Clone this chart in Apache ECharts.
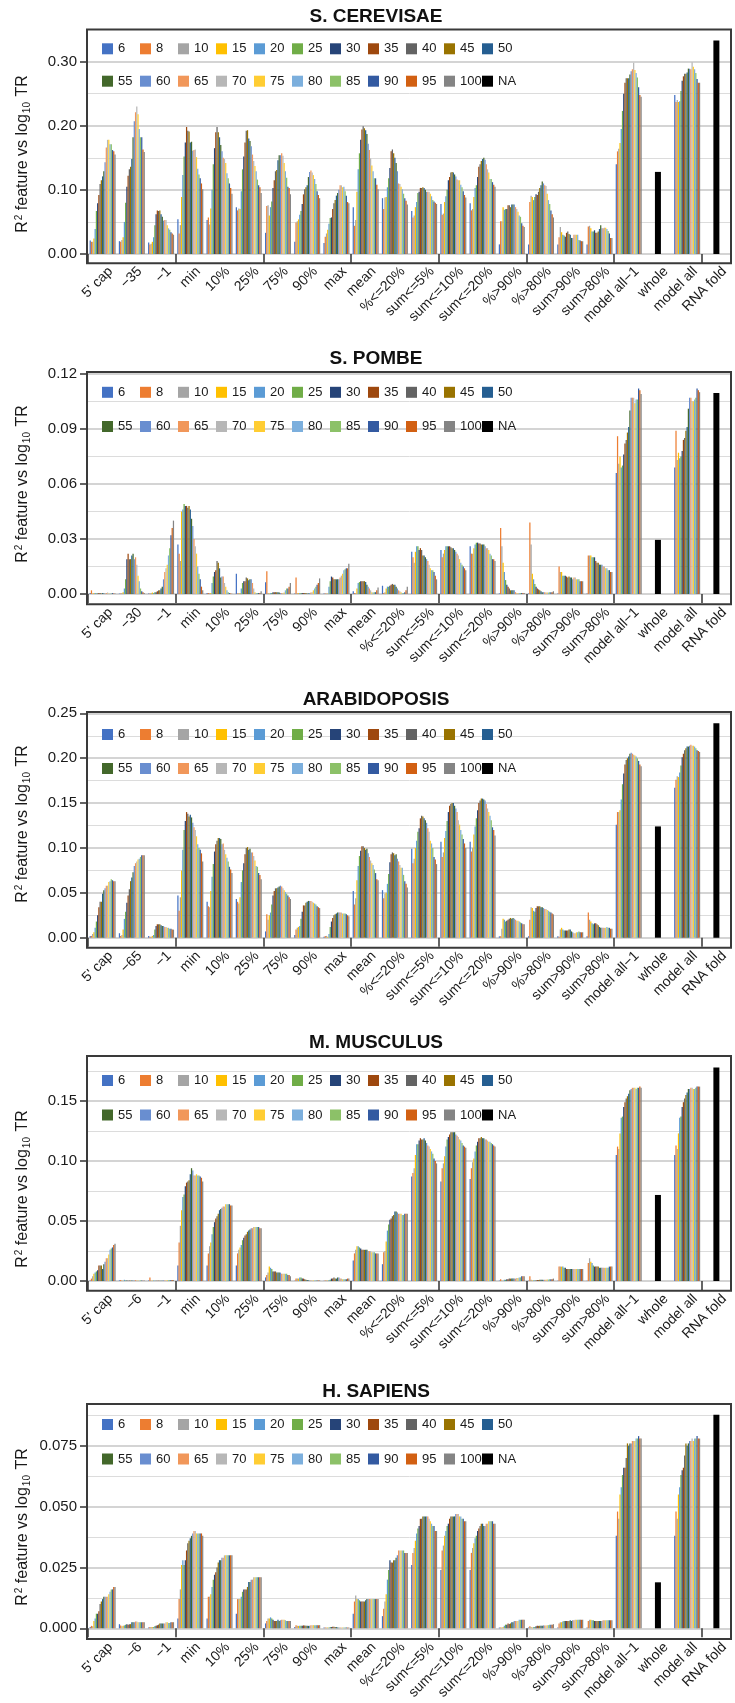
<!DOCTYPE html>
<html>
<head>
<meta charset="utf-8">
<script src="https://cdn.jsdelivr.net/npm/echarts@6/dist/echarts.min.js"></script>
<style>
  html, body { margin: 0; padding: 0; background: #ffffff; }
  #chart { width: 735px; height: 1703px; }
</style>
</head>
<body>
<div id="chart"></div>
<script>
// Window sizes (one bar series each) and the whole-transcript "NA" series
const WINDOWS = ['6', '8', '10', '15', '20', '25', '30', '35', '40', '45', '50',
                 '55', '60', '65', '70', '75', '80', '85', '90', '95', '100'];
const WINDOW_COLORS = ['#4472C4', '#ED7D31', '#A5A5A5', '#FFC000', '#5B9BD5', '#70AD47', '#264478',
                       '#9E480E', '#636363', '#997300', '#255E91', '#43682B', '#698ED0', '#F1975A',
                       '#B7B7B7', '#FFCD33', '#7CAFDD', '#8CC168', '#335AA1', '#D26012', '#848484'];
const NA_NAME = 'NA';

// Feature categories; the second one is the upstream position, which differs per species
const CAP = "5' cap";
const CATEGORY_TAIL = ['\u22121', 'min', '10%', '25%', '75%', '90%', 'max', 'mean', '%<=20%',
  'sum<=5%', 'sum<=10%', 'sum<=20%', '%>90%', '%>80%', 'sum>90%', 'sum>80%',
  'model all\u22121', 'whole', 'model all', 'RNA fold'];
// Categories that only have the whole-transcript (NA) value
const NA_ONLY = ['whole', 'RNA fold'];

const CEREVISAE_CATEGORIES = [CAP, '\u221235', ...CATEGORY_TAIL];
const POMBE_CATEGORIES = [CAP, '\u221230', ...CATEGORY_TAIL];
const ARABIDOPSIS_CATEGORIES = [CAP, '\u221265', ...CATEGORY_TAIL];
const MUSCULUS_CATEGORIES = [CAP, '\u22126', ...CATEGORY_TAIL];
const SAPIENS_CATEGORIES = [CAP, '\u22126', ...CATEGORY_TAIL];

// R² per feature (rows, in category order without whole / RNA fold), one value per window size
const CEREVISAE_R2 = [
  [0.021,0.019,0.019,0.024,0.039,0.067,0.079,0.092,0.109,0.115,0.121,0.129,0.143,0.166,0.178,0.178,0.171,0.171,0.162,0.160,0.155],
  [0.020,0.019,0.022,0.026,0.050,0.080,0.105,0.122,0.132,0.136,0.148,0.182,0.207,0.221,0.230,0.218,0.195,0.182,0.182,0.163,0.159],
  [0.018,0.015,0.016,0.019,0.026,0.045,0.062,0.068,0.067,0.068,0.062,0.058,0.052,0.053,0.053,0.045,0.040,0.038,0.034,0.032,0.030],
  [0.054,0.032,0.045,0.089,0.123,0.152,0.174,0.198,0.192,0.191,0.174,0.175,0.161,0.162,0.163,0.151,0.133,0.124,0.118,0.110,0.101],
  [0.053,0.057,0.046,0.071,0.100,0.140,0.165,0.190,0.198,0.190,0.182,0.170,0.160,0.150,0.148,0.142,0.126,0.118,0.110,0.103,0.094],
  [0.073,0.068,0.071,0.070,0.098,0.132,0.152,0.174,0.192,0.193,0.180,0.176,0.168,0.155,0.145,0.137,0.129,0.116,0.107,0.104,0.095],
  [0.033,0.075,0.076,0.060,0.073,0.082,0.103,0.115,0.129,0.131,0.146,0.154,0.154,0.157,0.153,0.142,0.129,0.119,0.105,0.103,0.093],
  [0.019,0.049,0.051,0.054,0.061,0.067,0.078,0.093,0.101,0.104,0.107,0.120,0.128,0.130,0.127,0.123,0.117,0.109,0.098,0.092,0.087],
  [0.017,0.027,0.032,0.038,0.047,0.056,0.057,0.070,0.079,0.084,0.091,0.095,0.100,0.107,0.107,0.104,0.105,0.098,0.091,0.081,0.079],
  [0.073,0.044,0.053,0.097,0.132,0.157,0.178,0.194,0.199,0.196,0.193,0.187,0.172,0.162,0.149,0.138,0.129,0.118,0.118,0.108,0.101],
  [0.087,0.070,0.088,0.089,0.104,0.118,0.134,0.160,0.163,0.157,0.150,0.142,0.129,0.110,0.109,0.105,0.101,0.094,0.087,0.083,0.077],
  [0.067,0.057,0.060,0.073,0.081,0.095,0.097,0.103,0.103,0.104,0.103,0.100,0.097,0.097,0.097,0.094,0.090,0.084,0.082,0.080,0.078],
  [0.078,0.061,0.063,0.081,0.090,0.100,0.115,0.120,0.127,0.128,0.127,0.124,0.121,0.116,0.115,0.115,0.108,0.104,0.098,0.092,0.088],
  [0.079,0.068,0.070,0.089,0.103,0.107,0.120,0.136,0.140,0.145,0.148,0.150,0.147,0.140,0.132,0.127,0.117,0.117,0.112,0.108,0.105],
  [0.015,0.051,0.051,0.073,0.069,0.070,0.070,0.076,0.076,0.073,0.077,0.077,0.077,0.073,0.070,0.066,0.060,0.058,0.048,0.044,0.042],
  [0.015,0.081,0.091,0.089,0.084,0.089,0.093,0.092,0.097,0.103,0.107,0.113,0.110,0.107,0.106,0.094,0.084,0.078,0.068,0.062,0.057],
  [0.015,0.026,0.042,0.034,0.030,0.029,0.027,0.033,0.035,0.031,0.030,0.025,0.025,0.030,0.030,0.030,0.030,0.022,0.021,0.020,0.020],
  [0.015,0.043,0.044,0.040,0.035,0.035,0.037,0.033,0.033,0.035,0.039,0.045,0.040,0.040,0.041,0.041,0.039,0.036,0.032,0.025,0.025],
  [0.140,0.160,0.164,0.173,0.195,0.223,0.250,0.267,0.274,0.274,0.274,0.280,0.285,0.288,0.298,0.287,0.282,0.275,0.260,0.248,0.245],
  [0.248,0.237,0.240,0.237,0.238,0.254,0.270,0.277,0.281,0.281,0.283,0.289,0.289,0.288,0.299,0.292,0.288,0.282,0.273,0.267,0.267]
];
const CEREVISAE_NA = [0.128, 0.333];

const POMBE_R2 = [
  [0.0005,0.002,0.0003,0.0005,0.0005,0.0003,0.0003,0.0005,0.0005,0.0003,0.0005,0.0003,0.0003,0.0005,0.0008,0.0003,0.0003,0.0003,0.0005,0.0003,0.0003],
  [0.0002,0.0003,0.0005,0.001,0.003,0.008,0.019,0.022,0.019,0.019,0.021,0.022,0.019,0.020,0.016,0.010,0.007,0.003,0.0015,0.001,0.0005],
  [0.0003,0.0003,0.0005,0.0008,0.0005,0.001,0.001,0.0015,0.002,0.002,0.003,0.004,0.008,0.012,0.014,0.016,0.021,0.025,0.032,0.036,0.040],
  [0.027,0.022,0.018,0.045,0.046,0.049,0.048,0.048,0.047,0.048,0.046,0.041,0.037,0.030,0.026,0.022,0.015,0.011,0.008,0.004,0.002],
  [0.0005,0.0005,0.0005,0.0005,0.006,0.0095,0.012,0.013,0.018,0.017,0.014,0.009,0.0095,0.0095,0.006,0.004,0.002,0.001,0.0005,0.0003,0.0002],
  [0.011,0.0003,0.0005,0.0005,0.003,0.006,0.007,0.007,0.009,0.0085,0.0075,0.008,0.008,0.006,0.003,0.001,0.0005,0.0005,0.0005,0.0005,0.0015],
  [0.0064,0.0124,0.0005,0.0003,0.0005,0.0005,0.001,0.001,0.001,0.001,0.001,0.0008,0.0005,0.0005,0.0005,0.0008,0.002,0.003,0.003,0.004,0.006],
  [0.0003,0.009,0.0005,0.0005,0.0005,0.0005,0.0005,0.0005,0.0005,0.0005,0.0003,0.0003,0.0005,0.0008,0.001,0.002,0.003,0.004,0.005,0.006,0.0085],
  [0.0003,0.0003,0.0003,0.0003,0.004,0.007,0.0095,0.009,0.008,0.008,0.008,0.008,0.008,0.009,0.010,0.011,0.013,0.0135,0.014,0.014,0.0165],
  [0.0015,0.0005,0.0005,0.003,0.006,0.0065,0.007,0.007,0.007,0.007,0.0065,0.005,0.004,0.003,0.002,0.001,0.0008,0.001,0.001,0.002,0.0035],
  [0.0045,0.0005,0.001,0.003,0.004,0.004,0.0045,0.005,0.0055,0.005,0.005,0.004,0.003,0.002,0.0015,0.001,0.0005,0.0005,0.001,0.002,0.004],
  [0.023,0.020,0.017,0.023,0.026,0.026,0.024,0.025,0.024,0.021,0.021,0.020,0.019,0.018,0.016,0.014,0.013,0.013,0.012,0.010,0.008],
  [0.024,0.020,0.022,0.024,0.026,0.026,0.026,0.026,0.0255,0.025,0.025,0.024,0.023,0.022,0.021,0.019,0.017,0.016,0.015,0.014,0.013],
  [0.026,0.022,0.022,0.025,0.027,0.028,0.028,0.0275,0.0275,0.027,0.027,0.027,0.026,0.025,0.025,0.024,0.022,0.021,0.019,0.019,0.018],
  [0.0003,0.036,0.026,0.017,0.012,0.0076,0.005,0.004,0.003,0.002,0.002,0.002,0.002,0.001,0.0005,0.0005,0.0005,0.0005,0.0005,0.0005,0.0005],
  [0.0003,0.039,0.027,0.011,0.008,0.0055,0.004,0.003,0.0025,0.002,0.0015,0.001,0.001,0.001,0.0008,0.0008,0.0008,0.001,0.001,0.001,0.0015],
  [0.0003,0.015,0.012,0.012,0.010,0.010,0.010,0.0095,0.009,0.0095,0.009,0.009,0.008,0.009,0.009,0.008,0.008,0.008,0.007,0.007,0.007],
  [0.0003,0.021,0.021,0.021,0.020,0.020,0.020,0.018,0.017,0.017,0.016,0.016,0.016,0.015,0.015,0.014,0.014,0.013,0.013,0.012,0.012],
  [0.066,0.086,0.071,0.075,0.069,0.070,0.076,0.082,0.084,0.088,0.091,0.100,0.107,0.107,0.107,0.104,0.106,0.106,0.112,0.111,0.109],
  [0.069,0.089,0.073,0.077,0.074,0.075,0.078,0.084,0.085,0.089,0.091,0.101,0.107,0.107,0.105,0.105,0.106,0.107,0.112,0.111,0.110]
];
const POMBE_NA = [0.0295, 0.1095];

const ARABIDOPSIS_R2 = [
  [0.002,0.002,0.004,0.006,0.011,0.018,0.025,0.034,0.040,0.040,0.049,0.053,0.055,0.058,0.058,0.062,0.063,0.065,0.064,0.063,0.063],
  [0.005,0.002,0.003,0.009,0.021,0.029,0.039,0.047,0.054,0.063,0.067,0.073,0.080,0.083,0.085,0.087,0.088,0.090,0.092,0.092,0.092],
  [0.002,0.001,0.001,0.002,0.003,0.009,0.013,0.015,0.015,0.015,0.014,0.013,0.013,0.012,0.012,0.011,0.011,0.010,0.010,0.009,0.009],
  [0.047,0.030,0.045,0.075,0.098,0.120,0.130,0.140,0.138,0.135,0.137,0.134,0.128,0.123,0.120,0.113,0.104,0.100,0.098,0.094,0.085],
  [0.040,0.035,0.034,0.052,0.068,0.082,0.096,0.104,0.108,0.111,0.111,0.110,0.104,0.105,0.098,0.093,0.089,0.085,0.079,0.076,0.072],
  [0.043,0.040,0.038,0.045,0.062,0.075,0.083,0.093,0.100,0.101,0.098,0.099,0.095,0.095,0.091,0.086,0.080,0.079,0.072,0.070,0.065],
  [0.007,0.026,0.020,0.025,0.028,0.037,0.047,0.052,0.055,0.055,0.056,0.057,0.058,0.057,0.055,0.053,0.051,0.049,0.047,0.045,0.043],
  [0.003,0.009,0.011,0.012,0.013,0.021,0.029,0.036,0.036,0.039,0.040,0.041,0.041,0.041,0.040,0.039,0.038,0.037,0.035,0.034,0.033],
  [0.001,0.002,0.002,0.001,0.004,0.012,0.018,0.022,0.025,0.026,0.027,0.028,0.028,0.028,0.028,0.027,0.027,0.027,0.026,0.025,0.024],
  [0.052,0.037,0.044,0.064,0.080,0.091,0.097,0.102,0.102,0.100,0.098,0.099,0.094,0.090,0.086,0.083,0.081,0.076,0.072,0.065,0.064],
  [0.053,0.044,0.049,0.050,0.060,0.071,0.084,0.093,0.095,0.094,0.092,0.093,0.088,0.085,0.081,0.078,0.078,0.070,0.063,0.060,0.056],
  [0.099,0.083,0.088,0.100,0.108,0.118,0.122,0.133,0.136,0.135,0.133,0.131,0.128,0.122,0.118,0.108,0.105,0.100,0.090,0.087,0.082],
  [0.107,0.090,0.095,0.111,0.119,0.130,0.140,0.147,0.149,0.150,0.150,0.147,0.144,0.140,0.131,0.126,0.120,0.115,0.110,0.105,0.100],
  [0.107,0.096,0.100,0.115,0.124,0.133,0.142,0.150,0.153,0.155,0.155,0.154,0.153,0.149,0.144,0.140,0.136,0.131,0.123,0.120,0.114],
  [0.0015,0.0015,0.010,0.021,0.020,0.018,0.019,0.020,0.021,0.022,0.021,0.022,0.021,0.020,0.019,0.019,0.018,0.017,0.016,0.015,0.015],
  [0.0015,0.020,0.034,0.033,0.030,0.029,0.033,0.035,0.035,0.035,0.034,0.034,0.033,0.032,0.032,0.031,0.030,0.029,0.028,0.027,0.026],
  [0.0015,0.001,0.009,0.011,0.009,0.008,0.008,0.008,0.008,0.009,0.009,0.007,0.006,0.005,0.005,0.006,0.006,0.007,0.006,0.006,0.006],
  [0.0015,0.028,0.020,0.018,0.016,0.015,0.016,0.016,0.015,0.014,0.012,0.011,0.011,0.011,0.011,0.011,0.012,0.011,0.011,0.010,0.010],
  [0.126,0.140,0.140,0.142,0.154,0.171,0.183,0.193,0.198,0.200,0.202,0.205,0.206,0.205,0.204,0.203,0.202,0.200,0.197,0.193,0.191],
  [0.167,0.176,0.180,0.179,0.184,0.192,0.201,0.205,0.209,0.211,0.213,0.213,0.214,0.215,0.214,0.214,0.213,0.211,0.209,0.208,0.207]
];
const ARABIDOPSIS_NA = [0.124, 0.239];

const MUSCULUS_R2 = [
  [0.0005,0.002,0.004,0.006,0.007,0.008,0.009,0.013,0.013,0.013,0.010,0.014,0.016,0.019,0.019,0.022,0.026,0.027,0.028,0.030,0.031],
  [0.0005,0.0008,0.0005,0.0003,0.001,0.0005,0.0005,0.0003,0.0005,0.0003,0.0005,0.0003,0.0005,0.0008,0.0005,0.0005,0.0003,0.0005,0.0005,0.0003,0.0005],
  [0.0005,0.003,0.0003,0.0003,0.0005,0.0003,0.0003,0.0003,0.0003,0.0003,0.0003,0.0003,0.0005,0.0005,0.0005,0.0008,0.0008,0.0008,0.0008,0.0008,0.0008],
  [0.013,0.032,0.046,0.059,0.070,0.072,0.079,0.082,0.083,0.084,0.089,0.094,0.092,0.088,0.088,0.089,0.088,0.088,0.087,0.086,0.083],
  [0.013,0.023,0.029,0.032,0.039,0.045,0.049,0.052,0.054,0.056,0.059,0.060,0.061,0.062,0.062,0.064,0.064,0.064,0.064,0.063,0.063],
  [0.013,0.023,0.026,0.028,0.030,0.034,0.036,0.038,0.039,0.041,0.042,0.043,0.044,0.044,0.045,0.045,0.045,0.045,0.045,0.044,0.044],
  [0.003,0.005,0.007,0.012,0.011,0.010,0.008,0.008,0.008,0.007,0.007,0.007,0.007,0.006,0.006,0.006,0.006,0.006,0.005,0.005,0.004],
  [0.0003,0.002,0.002,0.002,0.003,0.003,0.002,0.002,0.0015,0.001,0.0008,0.0005,0.0005,0.0005,0.0005,0.0005,0.0005,0.0005,0.0005,0.0005,0.0005],
  [0.0003,0.0005,0.0005,0.0005,0.0008,0.001,0.002,0.002,0.003,0.002,0.002,0.003,0.003,0.002,0.002,0.0015,0.0015,0.0015,0.0015,0.002,0.002],
  [0.017,0.023,0.026,0.029,0.029,0.028,0.027,0.026,0.026,0.026,0.026,0.026,0.025,0.025,0.025,0.024,0.024,0.024,0.023,0.023,0.023],
  [0.014,0.024,0.025,0.033,0.042,0.047,0.051,0.052,0.054,0.055,0.058,0.058,0.057,0.056,0.056,0.056,0.055,0.055,0.056,0.056,0.056],
  [0.087,0.090,0.094,0.105,0.114,0.114,0.117,0.119,0.118,0.118,0.119,0.117,0.115,0.113,0.112,0.110,0.108,0.106,0.102,0.100,0.098],
  [0.083,0.094,0.098,0.104,0.112,0.118,0.120,0.122,0.124,0.124,0.124,0.124,0.122,0.121,0.120,0.118,0.117,0.115,0.113,0.112,0.111],
  [0.085,0.094,0.099,0.102,0.108,0.113,0.116,0.119,0.119,0.120,0.119,0.119,0.118,0.118,0.117,0.116,0.116,0.115,0.114,0.113,0.112],
  [0.0003,0.0015,0.0005,0.0003,0.001,0.001,0.0015,0.0015,0.002,0.002,0.002,0.002,0.002,0.002,0.0025,0.0025,0.003,0.003,0.004,0.004,0.004],
  [0.0003,0.004,0.001,0.0005,0.0005,0.0005,0.0005,0.0008,0.0008,0.001,0.001,0.001,0.001,0.001,0.001,0.0012,0.0012,0.0015,0.0015,0.0015,0.002],
  [0.0003,0.012,0.012,0.012,0.012,0.011,0.011,0.010,0.010,0.010,0.010,0.010,0.010,0.010,0.010,0.010,0.010,0.010,0.010,0.010,0.010],
  [0.0003,0.015,0.019,0.016,0.015,0.013,0.012,0.012,0.012,0.012,0.011,0.011,0.011,0.011,0.011,0.011,0.011,0.011,0.012,0.012,0.012],
  [0.105,0.112,0.110,0.123,0.136,0.137,0.145,0.149,0.152,0.154,0.156,0.159,0.160,0.161,0.161,0.161,0.160,0.161,0.161,0.162,0.161],
  [0.105,0.113,0.110,0.123,0.136,0.137,0.145,0.149,0.152,0.155,0.157,0.160,0.160,0.161,0.161,0.160,0.160,0.161,0.162,0.162,0.162]
];
const MUSCULUS_NA = [0.0717, 0.178];

const SAPIENS_R2 = [
  [0.0005,0.001,0.0008,0.003,0.004,0.006,0.006,0.007,0.010,0.011,0.012,0.013,0.013,0.013,0.013,0.014,0.015,0.016,0.016,0.017,0.017],
  [0.0017,0.0012,0.0008,0.001,0.0012,0.0015,0.0017,0.0015,0.0017,0.0017,0.0025,0.0025,0.0025,0.0028,0.0028,0.0025,0.0025,0.0025,0.0025,0.0025,0.0025],
  [0.0003,0.0005,0.0005,0.0005,0.0005,0.0008,0.001,0.0013,0.0015,0.002,0.002,0.002,0.002,0.002,0.0025,0.0025,0.0022,0.0022,0.0025,0.0025,0.0025],
  [0.004,0.012,0.016,0.026,0.028,0.026,0.028,0.032,0.035,0.036,0.037,0.038,0.039,0.040,0.040,0.039,0.039,0.039,0.039,0.039,0.038],
  [0.004,0.013,0.013,0.014,0.017,0.020,0.022,0.023,0.025,0.027,0.028,0.028,0.029,0.029,0.030,0.030,0.030,0.030,0.030,0.030,0.030],
  [0.006,0.012,0.012,0.012,0.013,0.015,0.016,0.016,0.016,0.017,0.019,0.019,0.020,0.020,0.021,0.021,0.021,0.021,0.021,0.021,0.021],
  [0.002,0.003,0.004,0.004,0.0045,0.004,0.0035,0.003,0.003,0.003,0.0035,0.003,0.0033,0.0035,0.0035,0.0035,0.0033,0.003,0.003,0.003,0.003],
  [0.0005,0.0013,0.001,0.001,0.001,0.001,0.001,0.0012,0.0012,0.001,0.001,0.001,0.001,0.0013,0.0013,0.0013,0.0013,0.0013,0.0013,0.0013,0.0013],
  [0.0003,0.0003,0.0003,0.0003,0.0003,0.0005,0.0005,0.0006,0.0006,0.0005,0.0005,0.0003,0.0003,0.0003,0.0003,0.0003,0.0003,0.0003,0.0003,0.0003,0.0003],
  [0.006,0.011,0.0135,0.012,0.012,0.0115,0.011,0.011,0.011,0.011,0.0115,0.012,0.012,0.012,0.012,0.012,0.012,0.012,0.012,0.012,0.012],
  [0.005,0.008,0.011,0.014,0.020,0.024,0.028,0.027,0.027,0.028,0.028,0.029,0.030,0.032,0.032,0.032,0.032,0.032,0.031,0.031,0.031],
  [0.026,0.031,0.033,0.036,0.039,0.041,0.042,0.045,0.045,0.046,0.046,0.046,0.046,0.046,0.045,0.044,0.043,0.042,0.042,0.040,0.040],
  [0.024,0.032,0.034,0.038,0.040,0.042,0.043,0.045,0.046,0.046,0.046,0.046,0.047,0.047,0.047,0.046,0.046,0.045,0.045,0.044,0.044],
  [0.024,0.031,0.033,0.035,0.037,0.038,0.040,0.041,0.042,0.043,0.043,0.042,0.042,0.043,0.043,0.044,0.044,0.044,0.044,0.043,0.043],
  [0.0003,0.0003,0.0003,0.0005,0.001,0.0015,0.0015,0.002,0.0018,0.002,0.0025,0.0025,0.003,0.003,0.003,0.003,0.0035,0.0035,0.0035,0.0035,0.0035],
  [0.0003,0.0008,0.0005,0.0003,0.0005,0.0005,0.0008,0.001,0.001,0.001,0.001,0.001,0.0012,0.0012,0.0012,0.0013,0.0013,0.0015,0.0015,0.0015,0.0017],
  [0.0003,0.002,0.0025,0.0025,0.0028,0.003,0.003,0.003,0.003,0.003,0.0033,0.003,0.0033,0.0033,0.0035,0.0035,0.0035,0.0035,0.0035,0.0035,0.0035],
  [0.0003,0.003,0.0035,0.0035,0.0033,0.0033,0.003,0.003,0.003,0.003,0.003,0.003,0.003,0.0033,0.0033,0.0033,0.0033,0.0033,0.0033,0.0033,0.0033],
  [0.038,0.048,0.045,0.055,0.058,0.063,0.066,0.066,0.070,0.076,0.075,0.076,0.076,0.077,0.077,0.077,0.078,0.078,0.079,0.078,0.078],
  [0.038,0.048,0.045,0.055,0.058,0.063,0.065,0.066,0.071,0.076,0.075,0.076,0.077,0.077,0.078,0.077,0.078,0.078,0.079,0.078,0.078]
];
const SAPIENS_NA = [0.0189, 0.0878];

// Labelled y-axis values per species
const CEREVISAE_TICKS = [0, 0.1, 0.2, 0.3];
const POMBE_TICKS = [0, 0.03, 0.06, 0.09, 0.12];
const ARABIDOPSIS_TICKS = [0, 0.05, 0.1, 0.15, 0.2, 0.25];
const MUSCULUS_TICKS = [0, 0.05, 0.1, 0.15];
const SAPIENS_TICKS = [0, 0.025, 0.05, 0.075];

// Panel layout (pixels) and scale settings
const PANELS = [
  { title: 'S. CEREVISAE', cats: CEREVISAE_CATEGORIES, rows: CEREVISAE_R2, na: CEREVISAE_NA, ticks: CEREVISAE_TICKS,
    max: 0.35, major: 0.1, digits: 2, top: 29.5, zero: 254, bottom: 263.3, titleY: 16.3, legendY: [44.3, 76.7], nameY: 154 },
  { title: 'S. POMBE', cats: POMBE_CATEGORIES, rows: POMBE_R2, na: POMBE_NA, ticks: POMBE_TICKS,
    max: 0.121, major: 0.03, digits: 2, top: 372, zero: 594, bottom: 604.3, titleY: 358.7, legendY: [387.8, 422], nameY: 484 },
  { title: 'ARABIDOPOSIS', cats: ARABIDOPSIS_CATEGORIES, rows: ARABIDOPSIS_R2, na: ARABIDOPSIS_NA, ticks: ARABIDOPSIS_TICKS,
    max: 0.2515, major: 0.05, digits: 2, top: 712, zero: 937.7, bottom: 947.7, titleY: 699.7, legendY: [730, 764], nameY: 824 },
  { title: 'M. MUSCULUS', cats: MUSCULUS_CATEGORIES, rows: MUSCULUS_R2, na: MUSCULUS_NA, ticks: MUSCULUS_TICKS,
    max: 0.1875, major: 0.05, digits: 2, top: 1056, zero: 1281, bottom: 1290.7, titleY: 1043, legendY: [1076, 1110.5], nameY: 1189 },
  { title: 'H. SAPIENS', cats: SAPIENS_CATEGORIES, rows: SAPIENS_R2, na: SAPIENS_NA, ticks: SAPIENS_TICKS,
    max: 0.0922, major: 0.025, digits: 3, top: 1404, zero: 1628.3, bottom: 1639, titleY: 1392, legendY: [1420, 1454.5], nameY: 1527 }
];

const FONT = '"Liberation Sans", Arial, Helvetica, sans-serif';
const FRAME_LEFT = 87, FRAME_RIGHT = 731;
const GRID_LEFT = 88, GRID_WIDTH = 643;
const LABEL_SHIFT = 8;            // rotated category labels sit a little right of the tick centre
const LEGEND_LEFT = 102, LEGEND_STEP = 38, LEGEND_PER_ROW = 11;
const MAJOR_LINE = '#c6c6c6', MINOR_LINE = '#dcdcdc';

function windowSeriesData(panel, j) {
  let k = 0;
  return panel.cats.map(c => NA_ONLY.includes(c) ? null : panel.rows[k++][j]);
}
function naSeriesData(panel) {
  return panel.cats.map(c => {
    const i = NA_ONLY.indexOf(c);
    return i < 0 ? null : panel.na[i];
  });
}

const option = {
  animation: false,
  backgroundColor: '#ffffff',
  textStyle: { fontFamily: FONT },
  grid: [], xAxis: [], yAxis: [], series: [], legend: [], graphic: []
};

PANELS.forEach((p, pi) => {
  const dataGrid = option.grid.length;
  option.grid.push({
    left: GRID_LEFT, width: GRID_WIDTH, top: p.top, height: p.zero - p.top,
    containLabel: false, outerBoundsMode: 'none', show: false
  });
  const labelGrid = option.grid.length;
  option.grid.push({
    left: GRID_LEFT + LABEL_SHIFT, width: GRID_WIDTH, top: p.top, height: p.zero - p.top,
    containLabel: false, outerBoundsMode: 'none', show: false
  });

  // category axis carrying the window-size bars; ticks drawn at the frame bottom
  const barAxis = option.xAxis.length;
  option.xAxis.push({
    type: 'category', gridIndex: dataGrid, data: p.cats, position: 'bottom',
    offset: p.bottom - p.zero,
    axisLine: { show: false },
    axisTick: { show: true, length: 9, lineStyle: { color: '#333', width: 1.5 } },
    axisLabel: { show: false },
    splitLine: { show: false }
  });
  // twin axis for the single whole-transcript bar, centred on its category
  const naAxis = option.xAxis.length;
  option.xAxis.push({ type: 'category', gridIndex: dataGrid, data: p.cats, show: false });
  // rotated category names
  option.xAxis.push({
    type: 'category', gridIndex: labelGrid, data: p.cats, position: 'bottom',
    offset: p.bottom - p.zero,
    axisLine: { show: false }, axisTick: { show: false }, splitLine: { show: false },
    axisLabel: {
      interval: 0, rotate: 45, margin: 6, padding: [12, 0, 0, 0],
      fontSize: 14, color: '#1a1a1a', fontFamily: FONT
    }
  });

  // major scale: labels, ticks and darker grid lines
  const valueAxis = option.yAxis.length;
  option.yAxis.push({
    type: 'value', gridIndex: dataGrid, min: 0, max: p.max, interval: p.major,
    axisLine: { show: false },
    axisTick: { show: true, length: 8, customValues: p.ticks, lineStyle: { color: '#333', width: 1.5 } },
    axisLabel: {
      customValues: p.ticks, margin: 11, fontSize: 15, color: '#1a1a1a', fontFamily: FONT,
      formatter: v => v.toFixed(p.digits)
    },
    splitLine: { show: true, lineStyle: { color: MAJOR_LINE, width: 1.6 } }
  });
  // half-step scale: only the lighter in-between grid lines
  option.yAxis.push({
    type: 'value', gridIndex: dataGrid, min: 0, max: p.max, interval: p.major / 2,
    axisLine: { show: false }, axisTick: { show: false }, axisLabel: { show: false },
    splitLine: { show: true, lineStyle: { color: ['rgba(0,0,0,0)', MINOR_LINE], width: 1 } }
  });
  // companion value axis of the label grid (not drawn)
  option.yAxis.push({ type: 'value', gridIndex: labelGrid, min: 0, max: p.max, show: false });

  WINDOWS.forEach((w, j) => {
    option.series.push({
      type: 'bar', name: w, xAxisIndex: barAxis, yAxisIndex: valueAxis,
      data: windowSeriesData(p, j),
      itemStyle: { color: WINDOW_COLORS[j] },
      barGap: '0%', barCategoryGap: '11%',
      emphasis: { disabled: true }
    });
  });
  option.series.push({
    type: 'bar', name: NA_NAME, xAxisIndex: naAxis, yAxisIndex: valueAxis,
    data: naSeriesData(p), barWidth: 6,
    itemStyle: { color: '#000000' },
    emphasis: { disabled: true }
  });

  // legend laid out as an evenly spaced two-row table, one entry per cell
  WINDOWS.concat([NA_NAME]).forEach((name, k) => {
    const row = Math.floor(k / LEGEND_PER_ROW), col = k % LEGEND_PER_ROW;
    option.legend.push({
      data: [name], left: LEGEND_LEFT + col * LEGEND_STEP, top: p.legendY[row] - 2, padding: 0,
      icon: 'rect', itemWidth: 11, itemHeight: 11, itemGap: 0, selectedMode: false,
      textStyle: { fontSize: 13, color: '#1a1a1a', fontFamily: FONT }
    });
  });

  // plot frame
  option.graphic.push({
    type: 'rect', z: 100, silent: true,
    shape: { x: FRAME_LEFT, y: p.top, width: FRAME_RIGHT - FRAME_LEFT, height: p.bottom - p.top },
    style: { fill: 'none', stroke: '#3a3a3a', lineWidth: 2 }
  });
  // panel title
  option.graphic.push({
    type: 'text', z: 100, silent: true, x: 376, y: p.titleY,
    style: { text: p.title, font: 'bold 19px ' + FONT, fill: '#111', align: 'center', verticalAlign: 'middle' }
  });
  // y-axis title
  option.graphic.push({
    type: 'text', z: 100, silent: true, x: 23, y: p.nameY, rotation: Math.PI / 2,
    style: {
      text: '{m|R}{sup|2}{m| feature vs log}{sub|10}{m| TR}',
      align: 'center', verticalAlign: 'middle',
      rich: {
        m: { fontSize: 16, fontFamily: FONT, fill: '#1a1a1a', lineHeight: 20, verticalAlign: 'middle' },
        sup: { fontSize: 10, fontFamily: FONT, fill: '#1a1a1a', lineHeight: 20, verticalAlign: 'top', padding: [1, 0, 0, 1] },
        sub: { fontSize: 10, fontFamily: FONT, fill: '#1a1a1a', lineHeight: 20, verticalAlign: 'bottom', padding: [0, 1, 1, 1] }
      }
    }
  });
});

const chart = echarts.init(document.getElementById('chart'), null, { renderer: 'canvas', width: 735, height: 1703 });
chart.setOption(option);
</script>
</body>
</html>
